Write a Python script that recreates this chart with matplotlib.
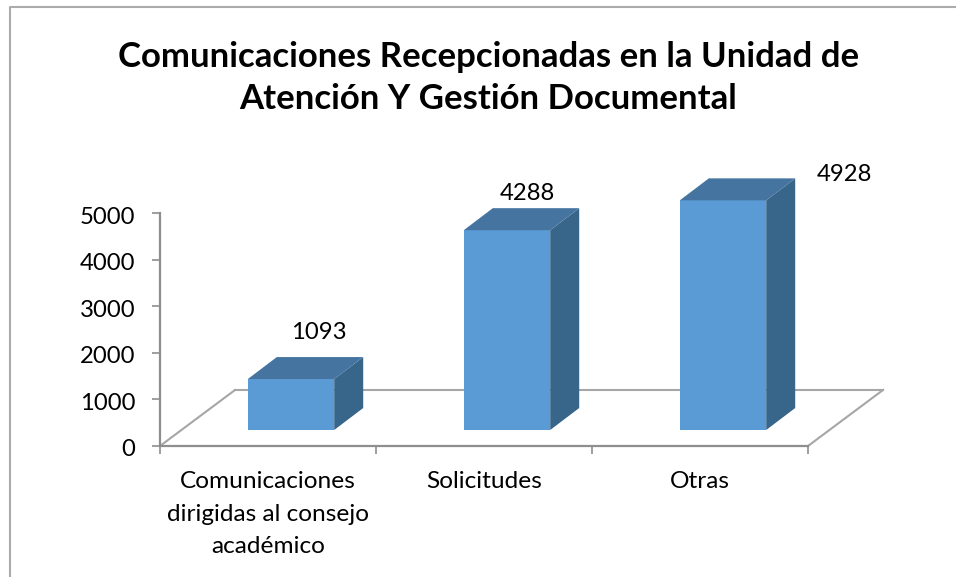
import matplotlib
matplotlib.use("Agg")
import matplotlib.pyplot as plt
from matplotlib.patches import Polygon
from matplotlib.lines import Line2D
from matplotlib.transforms import Affine2D

categories = ["Comunicaciones\ndirigidas al consejo\nacadémico", "Solicitudes", "Otras"]
values = [1093, 4288, 4928]
y_ticks = [0, 1000, 2000, 3000, 4000, 5000]
title = "Comunicaciones Recepcionadas en la Unidad de\nAtención Y Gestión Documental"

W, H = 956, 577
plt.rcParams["font.family"] = ["Lato", "Open Sans", "DejaVu Sans"]
fig = plt.figure(figsize=(W / 100, H / 100), dpi=100, facecolor="white")

# chart frame (top and left edges are visible)
fig.add_artist(Line2D([9.5 / W, 9.5 / W, 1], [0, 1 - 6.5 / H, 1 - 6.5 / H],
                      transform=fig.transFigure, color="#ABABAB", lw=1.5))

L, R, B, T = 160, 808, 446, 213
ax = fig.add_axes([L / W, 1 - B / H, (R - L) / W, (B - T) / H])
ax.patch.set_alpha(0)
ax.set_xlim(0, 3)
ax.set_ylim(0, 5000)
for s in ("top", "right"):
    ax.spines[s].set_visible(False)
for s in ("left", "bottom"):
    ax.spines[s].set_color("#8E8E8E")
    ax.spines[s].set_linewidth(1.6)
ax.set_yticks(y_ticks)
ax.set_xticks([0, 1, 2, 3])
ax.set_xticklabels([])
ax.tick_params(axis="both", color="#8E8E8E", width=1.2, length=5.8, labelsize=17.2, labelcolor="black")
ax.tick_params(axis="y", pad=12)
for lab in ax.get_yticklabels():
    lab.set_transform(lab.get_transform() + Affine2D().translate(0, -2))


def shift(dx, dy):
    return ax.transData + Affine2D().translate(dx, dy)


# floor of the 3-D plot
FLOOR_DX, FLOOR_DY = 75, 56
floor_style = dict(color="#A6A6A6", lw=1.5, clip_on=False, zorder=1)
ax.plot([0, 3], [0, 0], transform=shift(FLOOR_DX, FLOOR_DY), **floor_style)
for x in (0, 3):
    xs = ax.transData.transform((x, 0))
    ax.add_line(Line2D([xs[0], xs[0] + FLOOR_DX], [xs[1], xs[1] + FLOOR_DY],
                       transform=None, **floor_style))

# bars
BAR_DX, BAR_DY = 23, 16
DEPTH_DX, DEPTH_DY = 29, 22
half = 0.2
front_tr = shift(BAR_DX, BAR_DY)
for i, v in enumerate(values):
    x0, x1 = i + 0.5 - half, i + 0.5 + half
    kw = dict(closed=True, clip_on=False, lw=0, zorder=3)
    ax.add_patch(Polygon([(x0, 0), (x1, 0), (x1, v), (x0, v)], transform=front_tr,
                         facecolor="#5B9BD5", **kw))
    p00 = front_tr.transform((x1, 0))
    p01 = front_tr.transform((x1, v))
    p10 = front_tr.transform((x0, v))
    ax.add_patch(Polygon([p00, p01, p01 + (DEPTH_DX, DEPTH_DY), p00 + (DEPTH_DX, DEPTH_DY)],
                         transform=None, facecolor="#38658A", **kw))
    ax.add_patch(Polygon([p10, p01, p01 + (DEPTH_DX, DEPTH_DY), p10 + (DEPTH_DX, DEPTH_DY)],
                         transform=None, facecolor="#44749F", **kw))

# data labels
label_offsets = [(51, 63), (43, 53), (144, 42)]
for i, (v, (dx, dy)) in enumerate(zip(values, label_offsets)):
    ax.annotate(str(v), (i + 0.5, v), xytext=(dx * 0.72, dy * 0.72), textcoords="offset points",
                ha="center", va="center", fontsize=17.2, color="black", zorder=5, annotation_clip=False)

# category labels
for i, c in enumerate(categories):
    ax.annotate(c, (i + 0.5, 0), xytext=(0, -25 * 0.72), textcoords="offset points",
                ha="center", va="top", fontsize=17.6, color="black", linespacing=1.68, annotation_clip=False)

fig.text(488.5 / W, 1 - 78 / H, title, ha="center", va="center", fontsize=25, fontweight="bold",
         color="black", linespacing=1.36)

fig.savefig("out.png", dpi=100, facecolor="white")
